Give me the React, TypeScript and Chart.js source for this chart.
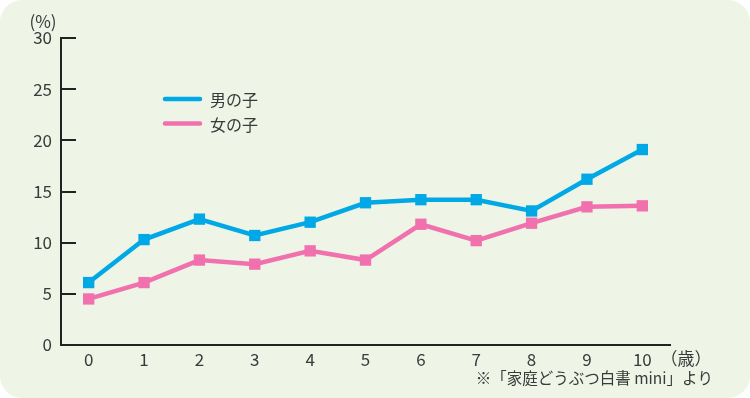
import React, { useEffect, useRef } from "react";
import { Chart, registerables } from "chart.js";

Chart.register(...registerables);

const categories = ["0", "1", "2", "3", "4", "5", "6", "7", "8", "9", "10"];
const boys = [6.1, 10.3, 12.3, 10.7, 12.0, 13.9, 14.2, 14.2, 13.1, 16.2, 19.1];
const girls = [4.5, 6.1, 8.3, 7.9, 9.2, 8.3, 11.8, 10.2, 11.9, 13.5, 13.6];
const seriesLabels = ["男の子", "女の子"];
const yTickValues = [0, 5, 10, 15, 20, 25, 30];
const yUnit = "(%)";
const xUnit = "（歳）";
const sourceNote = "※「家庭どうぶつ白書 mini」より";

const BLUE = "#00a8e6";
const PINK = "#f071ad";
const AXIS = "#222222";
const TEXT = "#3a3a3a";
const FONT = "'Noto Sans CJK JP', 'Noto Sans', sans-serif";

const extrasPlugin = {
  id: "extras",
  beforeDatasetsDraw(chart: any) {
    const { ctx, chartArea, scales } = chart;
    const y = scales.y;
    ctx.save();
    ctx.strokeStyle = AXIS;
    ctx.lineWidth = 2;
    yTickValues.forEach((v) => {
      const py = Math.round(y.getPixelForValue(v));
      ctx.beginPath();
      ctx.moveTo(chartArea.left, py);
      ctx.lineTo(chartArea.left + 15, py);
      ctx.stroke();
    });
    ctx.restore();
  },
  afterDraw(chart: any) {
    const { ctx, chartArea } = chart;
    ctx.save();
    const colors = [BLUE, PINK];
    seriesLabels.forEach((label, i) => {
      const ly = 99 + i * 24.5;
      ctx.strokeStyle = colors[i];
      ctx.lineWidth = 4.5;
      ctx.lineCap = "round";
      ctx.beginPath();
      ctx.moveTo(165, ly);
      ctx.lineTo(200, ly);
      ctx.stroke();
      ctx.fillStyle = TEXT;
      ctx.font = `16px ${FONT}`;
      ctx.textAlign = "left";
      ctx.textBaseline = "middle";
      ctx.fillText(label, 210, ly + 1);
    });
    ctx.fillStyle = TEXT;
    ctx.font = `17px ${FONT}`;
    ctx.textAlign = "center";
    ctx.textBaseline = "middle";
    ctx.fillText(yUnit, 43, 22);
    ctx.fillText(xUnit, chartArea.right + 16, 359);
    ctx.font = `15.5px ${FONT}`;
    ctx.textAlign = "right";
    ctx.fillText(sourceNote, 713, 378);
    ctx.restore();
  },
};

export default function App() {
  const ref = useRef<HTMLCanvasElement | null>(null);
  useEffect(() => {
    if (!ref.current) return;
    const chart = new Chart(ref.current, {
      type: "line",
      data: {
        labels: categories,
        datasets: [
          {
            label: seriesLabels[0],
            data: boys,
            borderColor: BLUE,
            backgroundColor: BLUE,
            borderWidth: 4.5,
            pointStyle: "rect",
            pointRadius: 8,
            pointBorderWidth: 0,
            tension: 0,
          },
          {
            label: seriesLabels[1],
            data: girls,
            borderColor: PINK,
            backgroundColor: PINK,
            borderWidth: 4.5,
            pointStyle: "rect",
            pointRadius: 8,
            pointBorderWidth: 0,
            tension: 0,
          },
        ],
      },
      options: {
        responsive: false,
        animation: false,
        layout: { padding: { left: 0, right: 80, top: 38, bottom: 0 } },
        plugins: { legend: { display: false }, tooltip: { enabled: false } },
        scales: {
          x: {
            type: "category",
            offset: true,
            grid: { display: false, drawTicks: false },
            border: { display: true, color: AXIS, width: 2 },
            ticks: { color: TEXT, font: { size: 17, family: FONT }, padding: 4, maxRotation: 0 },
            afterFit: (s: any) => {
              s.height = 53;
            },
          },
          y: {
            min: 0,
            max: 30,
            grid: { display: false, drawTicks: false },
            border: { display: true, color: AXIS, width: 2 },
            ticks: {
              stepSize: 5,
              color: TEXT,
              font: { size: 17, family: FONT },
              padding: 9,
            },
            afterFit: (s: any) => {
              s.width = 61;
            },
          },
        },
      },
      plugins: [extrasPlugin],
    });
    return () => chart.destroy();
  }, []);

  return (
    <div style={{ position: "absolute", left: 0, top: 0, width: 750, height: 398, background: "#ffffff" }}>
      <div
        style={{
          position: "absolute",
          left: 0,
          top: 0,
          width: 750,
          height: 398,
          borderRadius: 22,
          background: "#eef4e6",
        }}
      />
      <canvas ref={ref} width={750} height={398} style={{ position: "absolute", left: 0, top: 0 }} />
    </div>
  );
}
